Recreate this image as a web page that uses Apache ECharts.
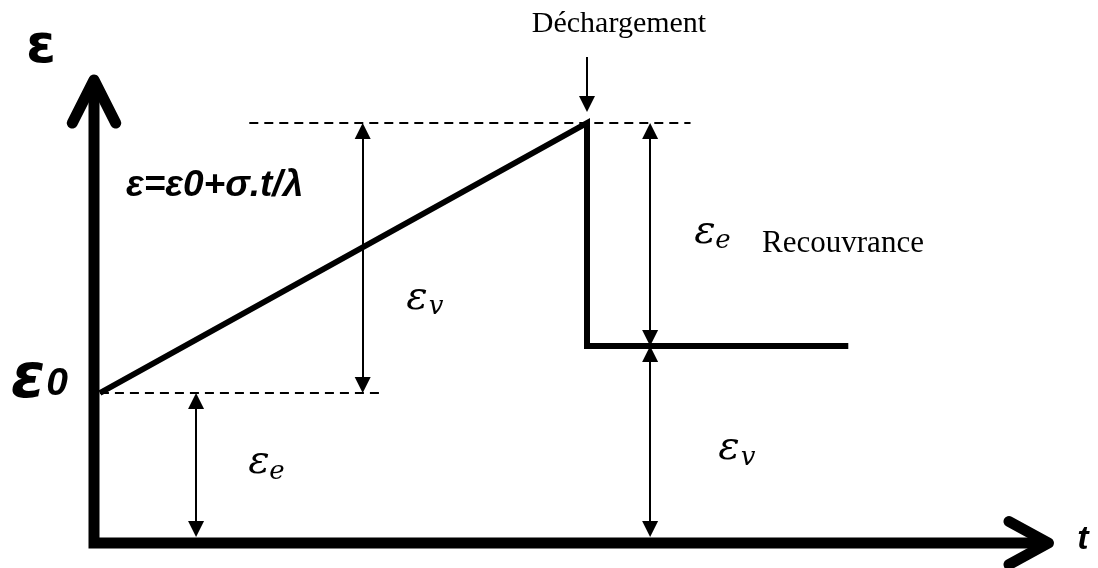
<!DOCTYPE html>
<html>
<head>
<meta charset="utf-8">
<script src="https://cdn.jsdelivr.net/npm/echarts@6/dist/echarts.min.js"></script>
<style>html,body{margin:0;padding:0;background:#fff}#c{width:1098px;height:568px}</style>
</head>
<body>
<div id="c"></div>
<script>
// Diagram values (t: time units, e: strain units)
const axisPath = [[0, 9.2], [0, 0], [19.3, 0]];
const arrowHeadT = [[18.56, 0.43], [19.36, 0], [18.56, -0.43]];
const arrowHeadE = [[-0.44, 8.4], [0, 9.26], [0.44, 8.4]];
const strainPath = [[0.12, 3.0], [10, 8.4], [10, 3.94], [15.3, 3.94]];
const dashLow = [[0.12, 3.0], [5.85, 3.0]];
const dashHigh = [[3.15, 8.4], [12.1, 8.4]];
// double-headed dimension arrows: [t, eFrom, eTo] (tip positions)
const dimArrows = [[5.45, 8.4, 3.0], [2.07, 3.0, 0.12], [11.28, 8.4, 3.94], [11.28, 3.94, 0.12]];
// unloading indicator arrow: [t, eStart, eTip]
const unloadArrow = [10, 9.72, 8.62];

const chart = echarts.init(document.getElementById('c'), null, {renderer: 'canvas'});
const headLen = 0.16; // half of arrow head (in e units), symbol centered on endpoint

const dimData = dimArrows.map(a => {
  const dir = a[2] < a[1] ? -1 : 1;
  return {coords: [[a[0], a[1] + dir * headLen], [a[0], a[2] - dir * headLen]]};
});

const thick = (data, w, extra) => Object.assign({
  type: 'line', data: data, showSymbol: false, symbol: 'none', clip: false, silent: true, animation: false,
  lineStyle: {color: '#000', width: w, cap: 'butt', join: 'miter'}
}, extra || {});

const serif = "'Liberation Serif', serif";
const sans = "'Liberation Sans', sans-serif";
const dsans = "'DejaVu Sans', sans-serif";
const mathF = "'DejaVu Serif', serif";

function txt(x, y, text, font, align) {
  return {type: 'text', x: x, y: y, silent: true,
    style: {text: text, font: font, fill: '#000', align: align || 'center', verticalAlign: 'middle'}};
}

chart.setOption({
  animation: false,
  grid: {left: 20.05, right: 18, top: 43, bottom: 25},
  xAxis: {type: 'value', min: -1.5, max: 20, show: false},
  yAxis: {type: 'value', min: 0, max: 10, show: false},
  series: [
    thick(axisPath, 11),
    thick(arrowHeadT, 11, {lineStyle: {color: '#000', width: 11, cap: 'round', join: 'round'}}),
    thick(arrowHeadE, 11, {lineStyle: {color: '#000', width: 11, cap: 'round', join: 'round'}}),
    thick(dashLow, 2, {lineStyle: {color: '#000', width: 2, type: [9, 6]}}),
    thick(dashHigh, 2, {lineStyle: {color: '#000', width: 2, type: [9, 6]}}),
    thick(strainPath, 6),
    {
      type: 'lines', coordinateSystem: 'cartesian2d', silent: true, animation: false,
      symbol: ['triangle', 'triangle'], symbolSize: 16,
      lineStyle: {color: '#000', width: 2, opacity: 1, curveness: 0},
      data: dimData
    },
    {
      type: 'lines', coordinateSystem: 'cartesian2d', silent: true, animation: false,
      symbol: ['none', 'triangle'], symbolSize: 16,
      lineStyle: {color: '#000', width: 2, opacity: 1, curveness: 0},
      data: [{coords: [[unloadArrow[0], unloadArrow[1]], [unloadArrow[0], unloadArrow[2] + headLen]]}]
    }
  ],
  graphic: [
    txt(41, 48, 'ε', 'bold 54px ' + dsans),
    txt(28, 381, 'ε', 'bold italic 62px ' + dsans),
    txt(57, 384, '0', 'bold italic 39px ' + sans),
    txt(1083, 540, 't', 'bold italic 34px ' + sans),
    txt(126, 186, 'ε=ε0+σ.t/λ', 'bold italic 37px ' + sans, 'left'),
    txt(619, 24, 'Déchargement', '30px ' + serif),
    txt(843, 244, 'Recouvrance', '31px ' + serif),
    txt(705, 233, 'ε', 'italic 40px ' + mathF),
    txt(723, 241, 'e', 'italic 26px ' + mathF),
    txt(417, 299, 'ε', 'italic 40px ' + mathF),
    txt(436, 307, 'v', 'italic 26px ' + mathF),
    txt(259, 463, 'ε', 'italic 40px ' + mathF),
    txt(277, 472, 'e', 'italic 26px ' + mathF),
    txt(729, 449, 'ε', 'italic 40px ' + mathF),
    txt(748, 458, 'v', 'italic 26px ' + mathF)
  ]
});
</script>
</body>
</html>
